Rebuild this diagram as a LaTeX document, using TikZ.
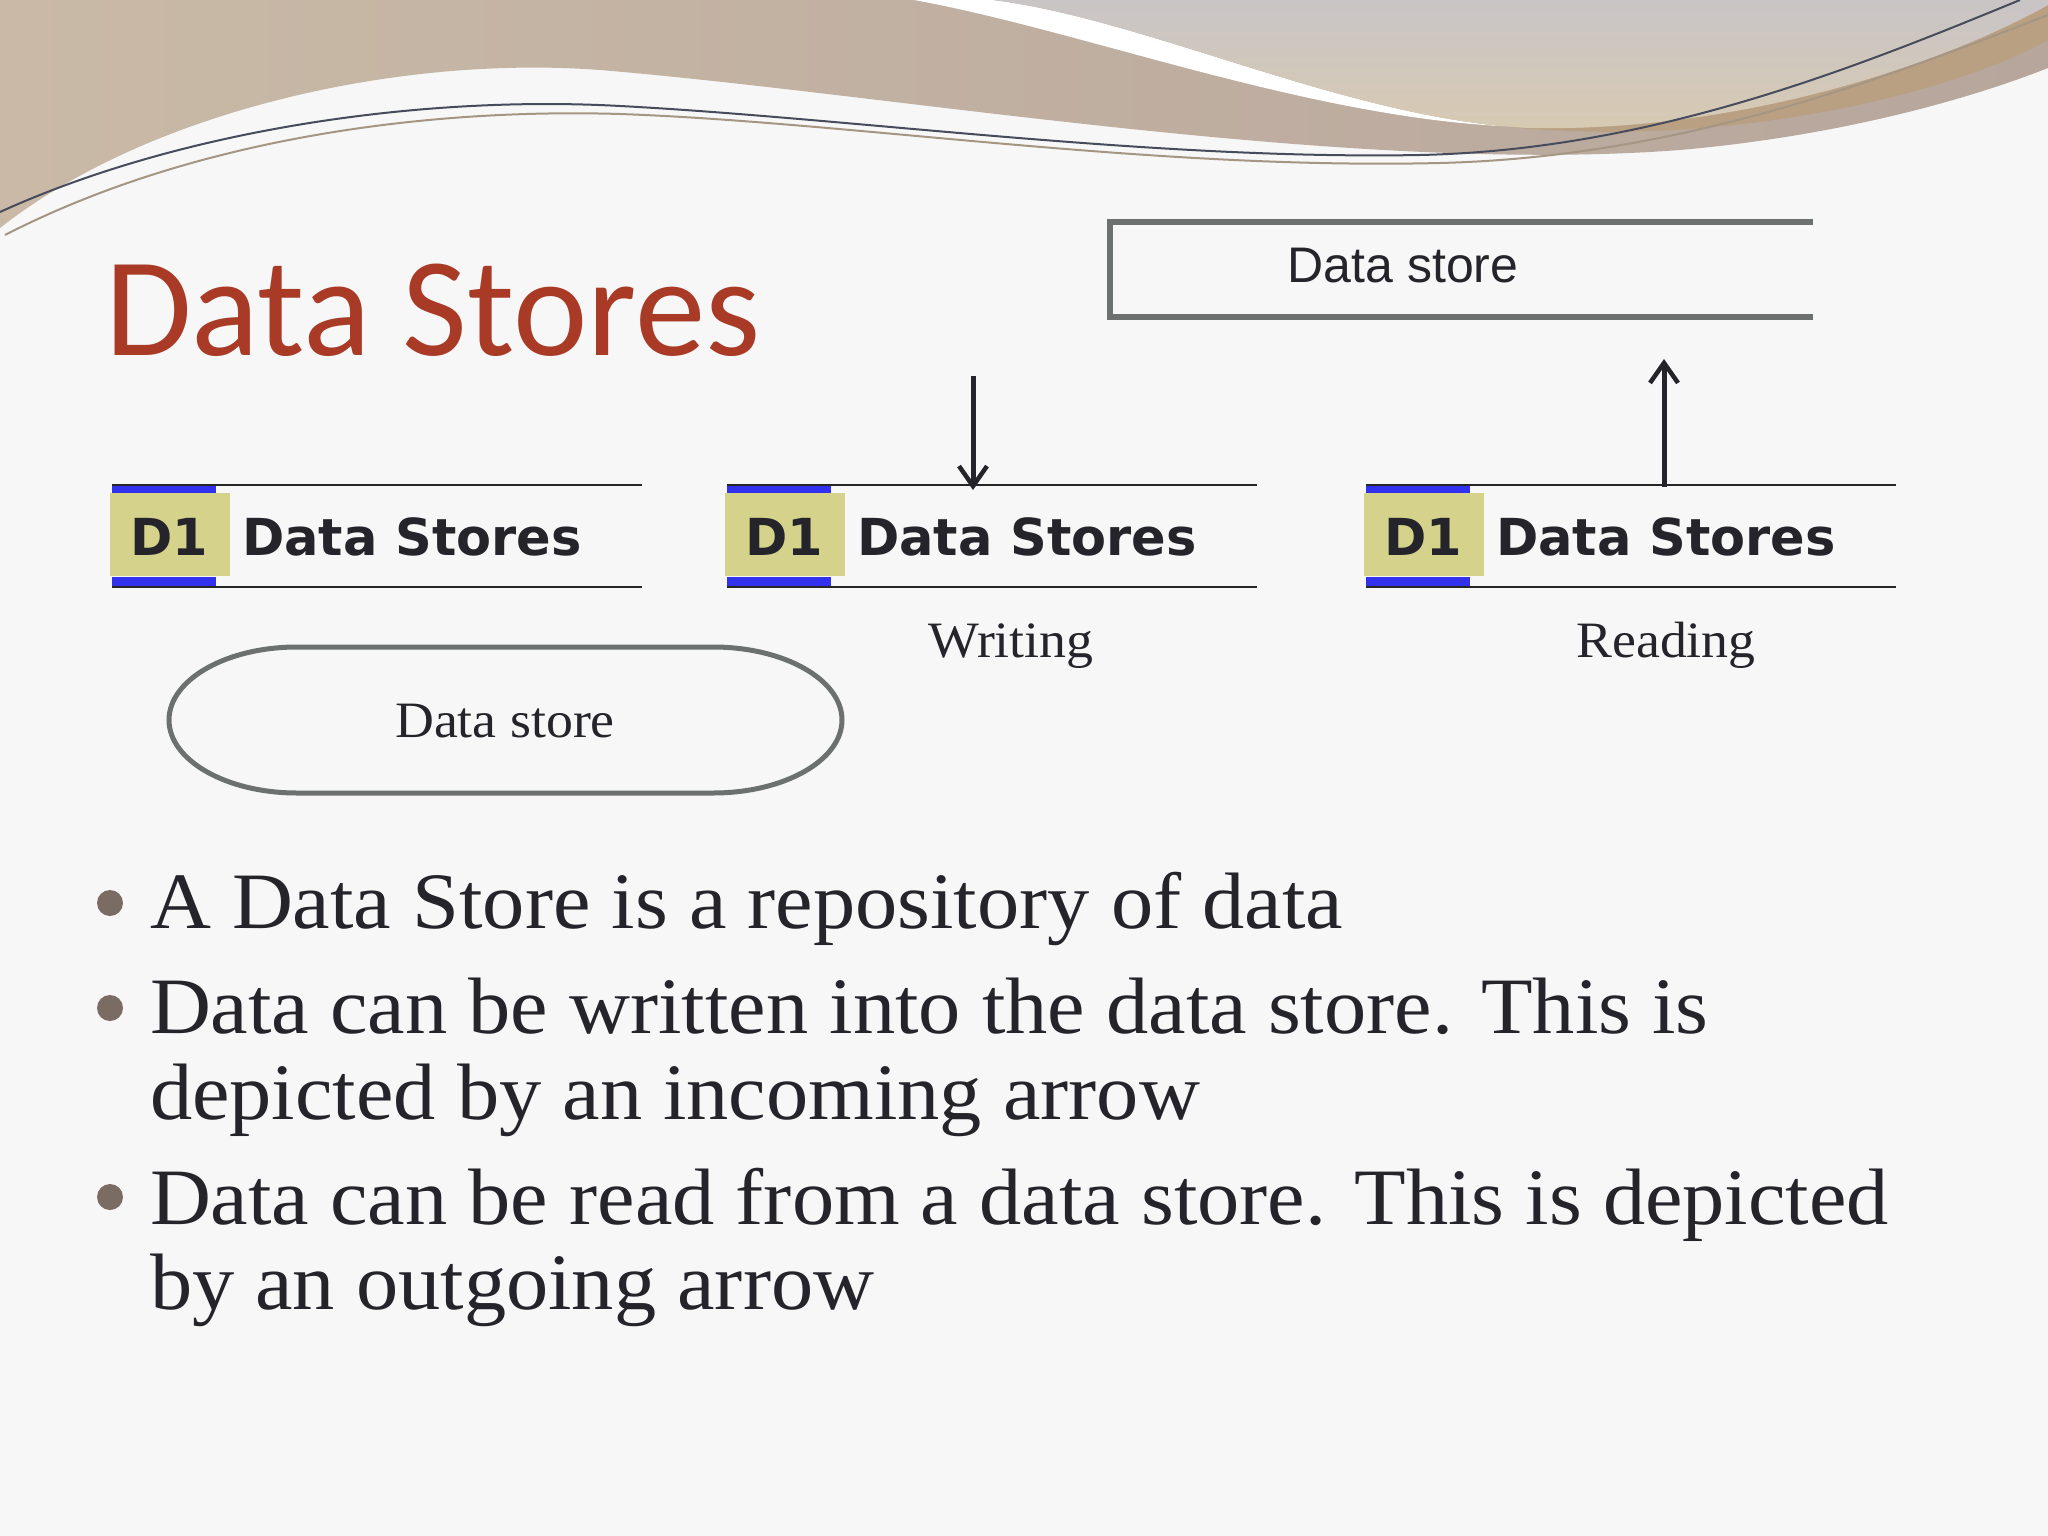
\documentclass[tikz,border=0pt]{standalone}
\usepackage{fontspec}
\usetikzlibrary{arrows.meta}
\setmainfont{Liberation Serif}
\newfontfamily\titlefont{Carlito}
\newfontfamily\arialfont{Liberation Sans}
\newfontfamily\dvfont{DejaVu Sans}
\newfontfamily\bodyfont[FakeStretch=1.055]{Liberation Serif}

\definecolor{bg}{HTML}{F7F7F8}
\definecolor{taupeA}{HTML}{C9B9A6}
\definecolor{taupeB}{HTML}{B7A69C}
\definecolor{lightA}{HTML}{C9C5C6}
\definecolor{lightB}{HTML}{D8CAB2}
\definecolor{tanband}{HTML}{B9A083}
\definecolor{titlered}{HTML}{A93A26}
\definecolor{ink}{HTML}{25242B}
\definecolor{boxgray}{HTML}{6C716F}
\definecolor{dsblue}{HTML}{3232EE}
\definecolor{olive}{HTML}{D4D28B}
\definecolor{bulletc}{HTML}{7A6B63}
\definecolor{lineDark}{HTML}{474C5C}
\definecolor{lineLight}{HTML}{A59684}

\begin{document}
\begin{tikzpicture}[x=1pt,y=-1pt,
  txt/.style={inner sep=0pt, outer sep=0pt, anchor=base west, text=ink},
  bodytxt/.style={txt, font=\bodyfont\fontsize{80}{90}\selectfont},
  labeltxt/.style={txt, anchor=base, font=\bodyfont\fontsize{51}{60}\selectfont},
  dstxt/.style={txt, font=\dvfont\bfseries\fontsize{51}{60}\selectfont},
  olivebox/.style={fill=olive, inner sep=0pt, minimum width=120pt, minimum height=83pt},
  storeline/.style={draw=black!85, line width=2.6pt},
  boxline/.style={draw=boxgray, line width=6pt, line join=miter},
  flowarrow/.style={draw=ink, line width=5pt, -{Straight Barb[length=20pt,width=28pt,line width=4.5pt]}},
  bulletdot/.style={circle, fill=bulletc, inner sep=0pt, minimum size=26pt}
]
\useasboundingbox (0,0) rectangle (2048,1536);
\fill[bg] (0,0) rectangle (2048,1536);

% top decoration
\shade[left color=taupeA, right color=taupeB]
  (0,0) -- (0,228) .. controls (150,110) and (400,55) .. (600,70)
  .. controls (900,95) and (1350,175) .. (1680,150)
  .. controls (1850,135) and (1980,95) .. (2048,68) -- (2048,0) -- cycle;
\fill[white]
  (914,0) .. controls (1080,30) and (1300,115) .. (1500,126)
  -- (1530,128) .. controls (1350,120) and (1150,20) .. (993,0) -- cycle;
\fill[tanband]
  (1500,126) .. controls (1720,150) and (1950,95) .. (2048,40)
  -- (2048,5) .. controls (1950,60) and (1750,132) .. (1530,128) -- cycle;
\shade[top color=lightA, bottom color=lightB]
  (993,0) .. controls (1150,20) and (1350,120) .. (1530,128)
  .. controls (1750,132) and (1950,60) .. (2048,5) -- (2048,0) -- cycle;
\draw[lineLight, line width=2pt]
  (5,235) .. controls (190,140) and (420,108) .. (620,114)
  .. controls (850,122) and (1150,170) .. (1440,163)
  .. controls (1680,157) and (1880,80) .. (2048,15);
\draw[lineDark, line width=2pt]
  (0,212) .. controls (180,130) and (420,95) .. (620,106)
  .. controls (850,118) and (1150,160) .. (1420,155)
  .. controls (1650,150) and (1850,70) .. (2020,0);

% title
\node[txt, text=titlered, font=\titlefont\fontsize{141}{160}\selectfont] (title) at (105,355) {Data Stores};

% top-right data store
\draw[boxline] (1813,222) -- (1110,222) -- (1110,317) -- (1813,317);
\node[txt, anchor=base, font=\arialfont\fontsize{50}{60}\selectfont] (tbtext) at (1403,282) {Data store};

% three D1 data stores
\foreach \ox/\n in {0/a,615/b,1254/c}{
  \fill[dsblue] (112+\ox,484) rectangle (216+\ox,494);
  \fill[dsblue] (112+\ox,577) rectangle (216+\ox,588);
  \node[olivebox] (box\n) at (170+\ox,534.5) {};
  \draw[storeline] (112+\ox,485) -- (642+\ox,485);
  \draw[storeline] (112+\ox,587) -- (642+\ox,587);
  \node[dstxt] (id\n) at (130+\ox,555) {D1};
  \node[dstxt] (name\n) at (242+\ox,555) {Data Stores};
}

% arrows
\coordinate (wsrc) at (973,376);
\coordinate (wdst) at (973,490);
\draw[flowarrow] (wsrc) -- (wdst);
\coordinate (rsrc) at (1664,487);
\coordinate (rdst) at (1664,359);
\draw[flowarrow] (rsrc) -- (rdst);

\node[labeltxt] (writing) at (1011,657) {Writing};
\node[labeltxt] (reading) at (1666,657) {Reading};

% stadium data store
\draw[boxgray, line width=5pt] (297,647) -- (713,647)
  arc[start angle=-90, end angle=90, x radius=129, y radius=73]
  -- (297,793)
  arc[start angle=90, end angle=270, x radius=128, y radius=73] -- cycle;
\node[labeltxt] (dstext) at (505,737) {Data store};

% bullets
\node[bulletdot] (b1) at (110,903) {};
\node[bulletdot] (b2) at (110,1008) {};
\node[bulletdot] (b3) at (110,1197) {};
\node[bodytxt] (l1) at (150,928) {A Data Store is a repository of data};
\node[bodytxt] (l2) at (150,1033) {Data can be written into the data store. This is};
\node[bodytxt] (l3) at (150,1119) {depicted by an incoming arrow};
\node[bodytxt] (l4) at (150,1224) {Data can be read from a data store. This is depicted};
\node[bodytxt] (l5) at (150,1309) {by an outgoing arrow};
\end{tikzpicture}
\end{document}
